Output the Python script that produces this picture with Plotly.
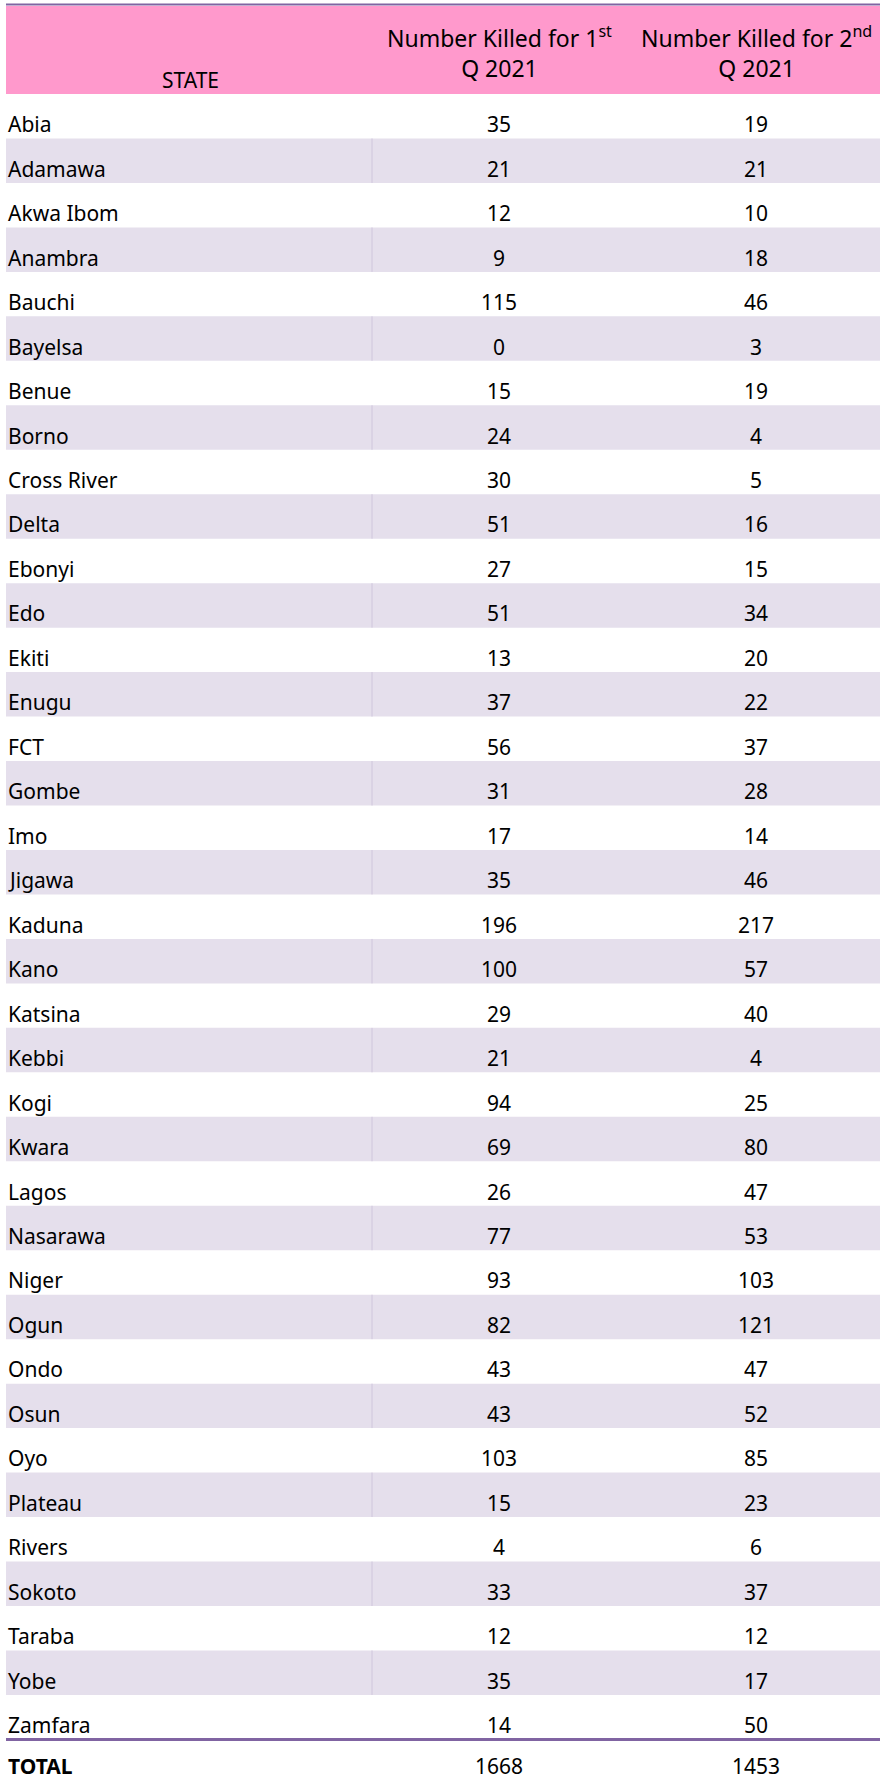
import plotly.graph_objects as go

# ---- data ----
states = ["Abia", "Adamawa", "Akwa Ibom", "Anambra", "Bauchi", "Bayelsa", "Benue", "Borno",
          "Cross River", "Delta", "Ebonyi", "Edo", "Ekiti", "Enugu", "FCT", "Gombe", "Imo",
          "Jigawa", "Kaduna", "Kano", "Katsina", "Kebbi", "Kogi", "Kwara", "Lagos", "Nasarawa",
          "Niger", "Ogun", "Ondo", "Osun", "Oyo", "Plateau", "Rivers", "Sokoto", "Taraba",
          "Yobe", "Zamfara"]
killed_q1 = [35, 21, 12, 9, 115, 0, 15, 24, 30, 51, 27, 51, 13, 37, 56, 31, 17, 35, 196, 100,
             29, 21, 94, 69, 26, 77, 93, 82, 43, 43, 103, 15, 4, 33, 12, 35, 14]
killed_q2 = [19, 21, 10, 18, 46, 3, 19, 4, 5, 16, 15, 34, 20, 22, 37, 28, 14, 46, 217, 57,
             40, 4, 25, 80, 47, 53, 103, 121, 47, 52, 85, 23, 6, 37, 12, 17, 50]
header_state = "STATE"
header_q1 = "Number Killed for 1<sup>st</sup><br>Q 2021"
header_q2 = "Number Killed for 2<sup>nd</sup><br>Q 2021"
total_label = "TOTAL"
total_q1 = 1668
total_q2 = 1453

# ---- layout constants ----
W, H = 880, 1782
ROW_H = 44.47
BODY_TOP = 94
LEFT = 6
X_STATE = 6
X_Q1 = 499
X_Q2 = 756
X_DIV = 372
FONT = "Comic Sans MS, Noto Sans, DejaVu Sans, sans-serif"
PINK = "#FF99CC"
BAND = "#E5DFEC"
PURPLE = "#8064A2"
DIVIDER = "#CFC6DC"

n = len(states)
rows = list(range(n))
total_row = n

y_top = -BODY_TOP / ROW_H - 0.5
y_bottom = (H - BODY_TOP) / ROW_H - 0.5

def py(px):
    return y_top + px / ROW_H

fig = go.Figure()
fig.add_trace(go.Scatter(x=[X_Q1] * n, y=rows, mode="markers", marker=dict(opacity=0),
                         hoverinfo="skip", showlegend=False))

shapes = []
# header fill
shapes.append(dict(type="rect", xref="x", yref="y", x0=LEFT, x1=W, y0=py(6), y1=-0.5,
                   fillcolor=PINK, line=dict(width=0), layer="below"))
# top purple rule
shapes.append(dict(type="line", xref="x", yref="y", x0=LEFT, x1=W, y0=py(4.5), y1=py(4.5),
                   line=dict(color=PURPLE, width=2)))
# banded rows + divider
for i in rows:
    if i % 2 == 1:
        shapes.append(dict(type="rect", xref="x", yref="y", x0=LEFT, x1=W, y0=i - 0.5, y1=i + 0.5,
                           fillcolor=BAND, line=dict(width=0), layer="below"))
        shapes.append(dict(type="line", xref="x", yref="y", x0=X_DIV, x1=X_DIV, y0=i - 0.5, y1=i + 0.5,
                           line=dict(color=DIVIDER, width=1), layer="below"))
# bottom purple rule above total
shapes.append(dict(type="line", xref="x", yref="y", x0=LEFT, x1=W, y0=n - 0.5, y1=n - 0.5,
                   line=dict(color=PURPLE, width=3)))

ann = []
def cell(x, y, text, xanchor, bold=False, size=21, shift=-8):
    ann.append(dict(x=x, y=y, xref="x", yref="y", text=("<b>%s</b>" % text) if bold else str(text),
                    showarrow=False, xanchor=xanchor, yanchor="middle", yshift=shift,
                    font=dict(family=FONT, size=size, color="black")))

for i, (s, a, b) in enumerate(zip(states, killed_q1, killed_q2)):
    cell(X_STATE, i, s, "left")
    cell(X_Q1, i, a, "center")
    cell(X_Q2, i, b, "center")
cell(X_STATE, total_row, total_label, "left", bold=True, shift=-4)
cell(X_Q1, total_row, total_q1, "center", shift=-4)
cell(X_Q2, total_row, total_q2, "center", shift=-4)

# header texts
ann.append(dict(x=190, y=py(80), xref="x", yref="y", text=header_state, showarrow=False,
                xanchor="center", yanchor="middle", font=dict(family=FONT, size=21, color="black")))
ann.append(dict(x=X_Q1, y=py(52), xref="x", yref="y", text=header_q1, showarrow=False,
                xanchor="center", yanchor="middle", font=dict(family=FONT, size=23, color="black")))
ann.append(dict(x=X_Q2, y=py(52), xref="x", yref="y", text=header_q2, showarrow=False,
                xanchor="center", yanchor="middle", font=dict(family=FONT, size=23, color="black")))

fig.update_layout(
    width=W, height=H, margin=dict(l=0, r=0, t=0, b=0),
    paper_bgcolor="white", plot_bgcolor="white",
    xaxis=dict(range=[0, W], visible=False, fixedrange=True),
    yaxis=dict(range=[y_bottom, y_top], visible=False, fixedrange=True),
    shapes=shapes, annotations=ann, showlegend=False,
)
fig.write_html("out.html", config={"displayModeBar": False},
               post_script="document.body.style.margin='0';document.body.style.overflow='hidden';")
